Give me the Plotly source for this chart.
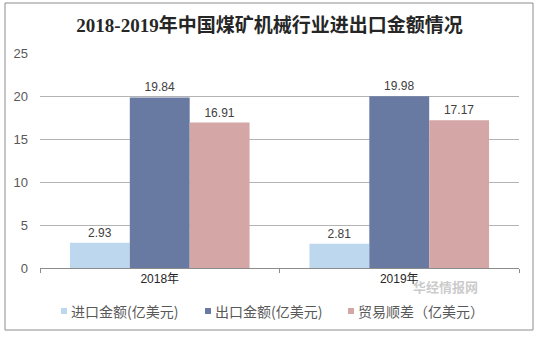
import plotly.graph_objects as go

# Coal-mining machinery trade, China, 2018-2019 (100 million USD)
years = ["2018年", "2019年"]
imports = [2.93, 2.81]
exports = [19.84, 19.98]
surplus = [16.91, 17.17]

series_names = ["进口金额(亿美元)", "出口金额(亿美元)", "贸易顺差（亿美元）"]
series_values = [imports, exports, surplus]
series_colors = ["#BDD7EE", "#687AA2", "#D5A6A6"]

fig = go.Figure()
for name, vals, color in zip(series_names, series_values, series_colors):
    fig.add_trace(go.Bar(
        x=years, y=vals, name=name,
        marker=dict(color=color, line=dict(width=0)),
        text=[f"{v:.2f}" for v in vals],
        textposition="outside",
        textfont=dict(family="Liberation Sans, Arial", size=12, color="#404040"),
        cliponaxis=False,
        showlegend=False,
    ))

grey_txt = "#595959"
fig.update_layout(
    width=539, height=338,
    margin=dict(l=40, r=20, t=53, b=70),
    paper_bgcolor="white", plot_bgcolor="white",
    barmode="group", bargap=0.25, bargroupgap=0,
    title=dict(
        text="<b>2018-2019年中国煤矿机械行业进出口金额情况</b>",
        x=0.5, xanchor="center", y=0.925, yanchor="middle",
        font=dict(family="Liberation Serif, Noto Sans CJK SC", size=19, color="#262626"),
    ),
    xaxis=dict(
        showline=True, linecolor="#8C8C8C", linewidth=1,
        ticks="outside", tickson="boundaries", ticklen=4, tickcolor="#8C8C8C",
        tickfont=dict(family="Liberation Sans, Noto Sans CJK SC", size=12, color="#262626"),
        showgrid=False,
    ),
    yaxis=dict(
        range=[0, 25], dtick=5, showline=False,
        showgrid=True, gridcolor="#B3B3B3", gridwidth=1,
        zeroline=False,
        tickfont=dict(family="Liberation Sans, Arial", size=13, color=grey_txt),
        ticks="", ticklabelstandoff=11,
    ),
)

# Pixel -> paper coordinate helpers for the plot area (x 40..519, y 53..268)
def px_x(px):
    return (px - 40) / 479

def px_y(py):
    return (268 - py) / 215

# Legend row: small colour squares followed by the series names
legend_x = [64, 208, 351]
legend_y = 311
for name, color, lx in zip(series_names, series_colors, legend_x):
    fig.add_shape(type="rect", xref="paper", yref="paper",
                  x0=px_x(lx - 3), x1=px_x(lx + 3),
                  y0=px_y(legend_y + 3), y1=px_y(legend_y - 3),
                  line=dict(width=0), fillcolor=color)
    fig.add_annotation(text=name, xref="paper", yref="paper",
                       x=px_x(lx + 5), y=px_y(legend_y), xanchor="left", yanchor="middle",
                       showarrow=False,
                       font=dict(family="Noto Sans CJK SC", size=14, color=grey_txt))

# Frame around the whole chart
fig.add_shape(type="rect", xref="paper", yref="paper",
              x0=px_x(5), x1=px_x(533), y0=px_y(330), y1=px_y(3),
              line=dict(color="#8C8C8C", width=1), fillcolor="rgba(0,0,0,0)", layer="below")

# Faint site mark in the lower right
fig.add_annotation(text="<b>华经情报网</b>", xref="paper", yref="paper",
                   x=px_x(480), y=px_y(298), showarrow=False,
                   font=dict(family="Noto Sans CJK SC", size=13, color="rgba(150,150,150,0.5)"))

fig.write_html("out.html")
